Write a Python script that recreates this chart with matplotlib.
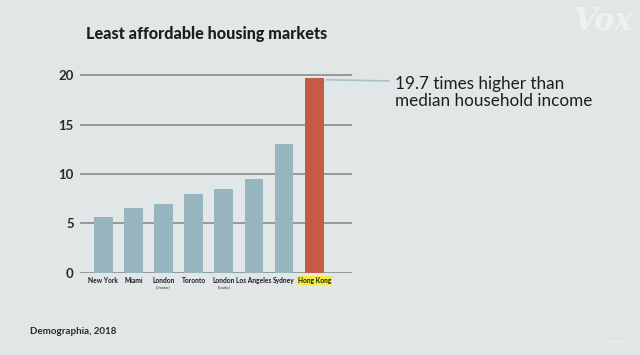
import matplotlib
matplotlib.use("Agg")
import matplotlib.pyplot as plt

cities = ["New York", "Miami", "London", "Toronto", "London", "Los Angeles", "Sydney", "Hong Kong"]
sublabels = ["", "", "(Greater)", "", "(Exurbs)", "", "", ""]
ratios = [5.6, 6.6, 7.0, 8.0, 8.5, 9.5, 13.0, 19.7]
yticks = [0, 5, 10, 15, 20]
title = "Least affordable housing markets"
note = "19.7 times higher than\nmedian household income"
source = "Demographia, 2018"

BG = "#e1e6e6"
BAR = "#97b5bf"
HL = "#c65a47"
GRID = "#8d9294"
FONT = "Lato"

fig = plt.figure(figsize=(6.4, 3.55), dpi=100, facecolor=BG)
ax = fig.add_axes([0.125, 0.2318, 0.425, 0.5617])
ax.set_facecolor(BG)

colors = [BAR] * (len(ratios) - 1) + [HL]
x = list(range(len(ratios)))
ax.bar(x, ratios, width=0.62, color=colors, zorder=3)

ax.set_xlim(-0.77, 8.25)
ax.set_ylim(0, 20.2)
for t in yticks:
    ax.axhline(t, color=GRID, lw=1.3, zorder=2)
for s in ax.spines.values():
    s.set_visible(False)
ax.set_yticks(yticks)
ax.set_yticklabels([str(t) for t in yticks], fontsize=9.5, fontweight="bold",
                   fontfamily=FONT, color="#2a2a2a")
ax.tick_params(axis="y", length=0, pad=4.5)
ax.set_xticks([])

for i, (c, sl) in enumerate(zip(cities, sublabels)):
    kw = dict(ha="center", va="top", fontsize=4.8, fontweight="bold", fontfamily=FONT,
              color="#1e1e1e", transform=ax.get_xaxis_transform())
    if i == len(cities) - 1:
        kw["bbox"] = dict(boxstyle="square,pad=0.15", facecolor="#f4ec3c", edgecolor="none")
    ax.text(i, -0.02, c, **kw)
    if sl:
        ax.text(i, -0.065, sl, ha="center", va="top", fontsize=2.8, fontstyle="italic",
                fontfamily=FONT, color="#333333", transform=ax.get_xaxis_transform())

# leader line and annotation
ax.annotate("", xy=(len(ratios) - 1 + 0.31, ratios[-1] - 0.15), xycoords="data",
            xytext=(392 / 640, 1 - 81 / 355), textcoords="figure fraction",
            arrowprops=dict(arrowstyle="-", color="#a9c2ca", lw=1.2))
fig.text(395 / 640, 1 - 92.5 / 355, note, ha="left", va="center", fontsize=12.3,
         fontfamily=FONT, color="#1e1e1e", linespacing=1.05)

fig.text(86 / 640, 1 - 34 / 355, title, ha="left", va="center", fontsize=11.6,
         fontweight="black", fontfamily=FONT, color="#1e1e1e")
fig.text(30 / 640, 1 - 332 / 355, source, ha="left", va="center", fontsize=7,
         fontweight="bold", fontfamily=FONT, color="#2a2a2a")

fig.text(603 / 640, 1 - 21 / 355, "Vox", ha="center", va="center", fontsize=22,
         fontweight="bold", fontstyle="italic", fontfamily="DejaVu Serif", color="#eef2f2")
fig.text(615 / 640, 1 - 342 / 355, "SUBSCRIBE", ha="center", va="center", fontsize=3,
         fontfamily=FONT, color="#f3f5f5")

fig.savefig("out.png", dpi=100, facecolor=BG)
